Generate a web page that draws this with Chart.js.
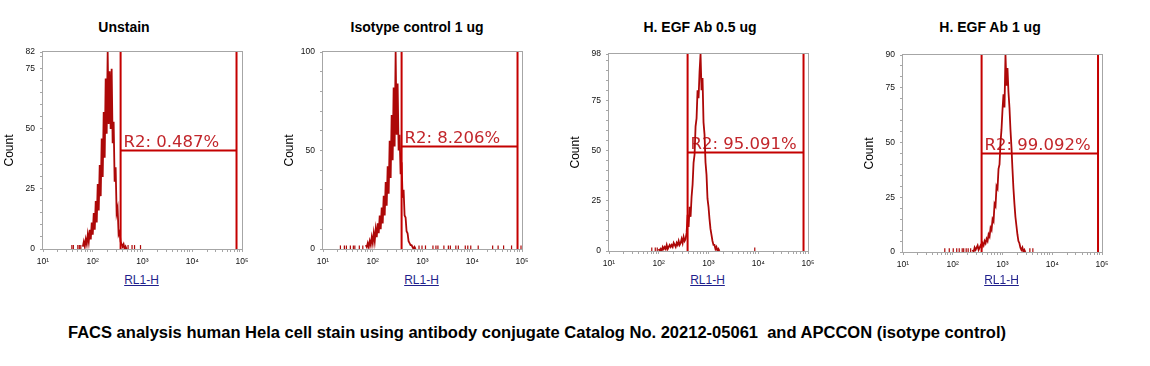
<!DOCTYPE html>
<html>
<head>
<meta charset="utf-8">
<script src="https://cdn.jsdelivr.net/npm/chart.js@4.4.1/dist/chart.umd.min.js"></script>
<style>
  body {
    margin: 0;
    width: 1150px;
    height: 366px;
    background: #fff;
    position: relative;
    overflow: hidden;
    font-family: "Liberation Sans", Arial, sans-serif;
  }
  .panel { position: absolute; }
  .title {
    position: absolute;
    top: 19px;
    font-size: 14px;
    line-height: 16px;
    font-weight: bold;
    white-space: nowrap;
    transform: translateX(-50%);
  }
  .xlabel {
    position: absolute;
    top: 273px;
    font-size: 12px;
    line-height: 14px;
    color: #1f1f8c;
    text-decoration: underline;
    transform: translateX(-50%);
  }
  #caption {
    position: absolute;
    left: 68px;
    top: 324px;
    font-size: 16px;
    line-height: 18px;
    font-weight: bold;
    white-space: pre;
    transform-origin: left top;
  }
</style>
</head>
<body>
<div id="caption">FACS analysis human Hela cell stain using antibody conjugate Catalog No. 20212-05061  and APCCON (isotype control)</div>

<script>
// ---- data ----
const panelTitles = ["Unstain", "Isotype control 1 ug", "H. EGF Ab 0.5 ug", "H. EGF Ab 1 ug"];
const countMax = [82, 100, 98, 90];
const countLabels = [
  [0, 25, 50, 75, 82],
  [0, 50, 100],
  [0, 25, 50, 75, 98],
  [0, 25, 50, 75, 90]
];
const countMinorStep = [5, 10, 5, 5];

const decadeTicks = [10, 100, 1000, 10000, 100000];
const decadeLabels = ["10¹", "10²", "10³", "10⁴", "10⁵"];

const gateLow = [363, 380, 380, 380];
const gateHigh = [77600, 81300, 81300, 83200];
const gateCount = [41, 52, 49, 45];
const gatePercent = ["0.487%", "8.206%", "95.091%", "99.092%"];

// histogram bins, 0.02 decade wide, first bin given as log10(RL1-H)
const binStep = 0.02;
const histStart = [1.80, 1.86, 2.00, 2.40];

const unstainCounts = [
  1, 3, 1, 4, 2, 6, 3, 8, 4, 11, 6, 15, 8, 20, 11, 27, 16, 35, 22, 46,
  30, 57, 38, 71, 48, 82, 52, 74, 50, 75, 44, 53, 28, 34, 15, 17, 6, 7, 3, 2,
  1, 2, 0, 1, 0
];
const isotypeCounts = [
  2, 1, 3, 1, 4, 2, 6, 3, 8, 4, 10, 6, 13, 8, 17, 10, 21, 13, 27, 17,
  34, 22, 42, 28, 55, 36, 68, 45, 82, 52, 100, 58, 84, 50, 58, 38, 44, 26, 30, 17,
  16, 9, 8, 4, 3, 2, 2, 1, 0, 1, 0
];
const egfHalfCounts = [
  1, 0, 1, 0, 2, 1, 2, 1, 3, 1, 2, 3, 2, 3, 2, 4, 3, 2, 4, 3,
  5, 3, 4, 6, 4, 7, 5, 6, 9, 18, 12, 22, 17, 27, 33, 44, 48, 62, 66, 80,
  76, 89, 98, 80, 86, 64, 58, 44, 38, 26, 22, 16, 11, 8, 5, 3, 3, 1, 2, 0,
  1, 0
];
const egfOneCounts = [
  1, 0, 2, 1, 2, 3, 1, 2, 3, 2, 4, 3, 5, 4, 6, 5, 8, 7, 11, 10,
  15, 14, 22, 21, 30, 29, 38, 40, 50, 56, 65, 72, 66, 90, 76, 84, 73, 66, 56, 48,
  38, 29, 22, 16, 12, 8, 5, 4, 2, 1, 2, 0, 1, 0
];
const histCounts = [unstainCounts, isotypeCounts, egfHalfCounts, egfOneCounts];

// single stray events, log10(RL1-H)
const strayEvents = [
  [1.58, 1.61, 1.70, 1.73, 1.76, 2.71, 2.79, 2.84, 2.96],
  [1.35, 1.43, 1.47, 1.55, 1.61, 1.64, 1.73, 1.80, 2.93, 2.99, 3.06, 3.21, 3.27,
   3.31, 3.43, 3.52, 3.56, 3.67, 3.72, 3.86, 3.91, 3.97, 4.12, 4.41, 4.52, 4.63,
   4.79, 4.98],
  [1.86, 1.93, 1.97, 3.93],
  [1.84, 1.93, 2.01, 2.08, 2.13, 2.19, 2.22, 2.27, 2.31, 2.36, 3.55, 3.61]
];

// ---- layout ----
const plotLeft = [43, 323, 609, 903];
const plotTop = [52, 52, 54, 55];
const titleCenter = [124, 417, 700, 990];
const plotWidth = 199;
const plotHeight = 197;
const axisWidth = 43;
const axisHeight = 22;
const padTop = 8;
const padRight = 8;

const histColor = "#ad0808";
const gateColor = "#c40000";
const labelColor = "#c2262b";
const frameColor = "#a6a6a6";

const framePlugin = {
  id: "frame",
  beforeDatasetsDraw(chart) {
    const a = chart.chartArea;
    const ctx = chart.ctx;
    ctx.save();
    ctx.strokeStyle = frameColor;
    ctx.lineWidth = 1;
    ctx.strokeRect(a.left - 0.5, a.top - 0.5, a.right - a.left + 1, a.bottom - a.top + 1);

    const i = chart.options.panelIndex;
    const x = chart.scales.x.getPixelForValue(gateLow[i]);
    const y = chart.scales.y.getPixelForValue(gateCount[i]);
    ctx.fillStyle = labelColor;
    ctx.font = "16.5px 'DejaVu Sans', Verdana, sans-serif";
    ctx.textBaseline = "alphabetic";
    ctx.fillText("R2: " + gatePercent[i], x + 3, y - 4);
    ctx.restore();
  }
};

function makePanel(i) {
  const holder = document.createElement("div");
  holder.className = "panel";
  holder.style.left = (plotLeft[i] - axisWidth) + "px";
  holder.style.top = (plotTop[i] - padTop) + "px";
  const canvas = document.createElement("canvas");
  canvas.width = axisWidth + plotWidth + padRight;
  canvas.height = padTop + plotHeight + axisHeight;
  holder.appendChild(canvas);
  document.body.appendChild(holder);

  const title = document.createElement("div");
  title.className = "title";
  title.textContent = panelTitles[i];
  title.style.left = titleCenter[i] + "px";
  document.body.appendChild(title);

  const xlabel = document.createElement("div");
  xlabel.className = "xlabel";
  xlabel.textContent = "RL1-H";
  xlabel.style.left = (plotLeft[i] + plotWidth / 2 - 1) + "px";
  document.body.appendChild(xlabel);

  const hist = histCounts[i].map((c, k) => ({
    x: Math.pow(10, histStart[i] + k * binStep),
    y: c
  }));
  const strays = strayEvents[i].map(e => ({ x: Math.pow(10, e), y: 0.8 }));
  const lo = gateLow[i], hi = gateHigh[i], h = gateCount[i], top = countMax[i];
  const gate = [
    { x: lo, y: 0 }, { x: lo, y: top }, { x: lo, y: null },
    { x: lo, y: h }, { x: hi, y: h }, { x: hi, y: null },
    { x: hi, y: 0 }, { x: hi, y: top }
  ];

  new Chart(canvas, {
    type: "line",
    data: {
      datasets: [
        {
          data: gate,
          borderColor: gateColor,
          borderWidth: 2,
          pointRadius: 0,
          spanGaps: false
        },
        {
          data: hist,
          borderColor: histColor,
          borderWidth: 1.8,
          pointRadius: 0,
          tension: 0
        },
        {
          data: strays,
          showLine: false,
          pointStyle: "line",
          rotation: 90,
          pointRadius: 2,
          pointBorderWidth: 1.2,
          pointBorderColor: histColor
        }
      ]
    },
    options: {
      panelIndex: i,
      responsive: false,
      animation: false,
      layout: { padding: { top: padTop, right: padRight, left: 0, bottom: 0 } },
      plugins: {
        legend: { display: false },
        tooltip: { enabled: false }
      },
      scales: {
        x: {
          type: "logarithmic",
          min: 10,
          max: 100000,
          border: { display: false },
          grid: { drawOnChartArea: false, tickLength: 3, color: frameColor },
          ticks: {
            autoSkip: false,
            maxRotation: 0,
            padding: 5,
            color: "#111",
            font: { family: "'Liberation Sans', Arial", size: 8.5 },
            callback: value => {
              const d = decadeTicks.indexOf(value);
              return d >= 0 ? decadeLabels[d] : "";
            }
          },
          afterBuildTicks: axis => {
            const ticks = [];
            for (let p = 10; p < 100000; p *= 10) {
              for (let m = 1; m < 10; m++) ticks.push({ value: m * p });
            }
            ticks.push({ value: 100000 });
            axis.ticks = ticks;
          },
          afterFit: axis => {
            axis.height = axisHeight;
            axis.paddingLeft = 0;
            axis.paddingRight = 0;
          }
        },
        y: {
          min: 0,
          max: countMax[i],
          border: { display: false },
          grid: { drawOnChartArea: false, tickLength: 3, color: frameColor },
          ticks: {
            autoSkip: false,
            padding: 5,
            color: "#111",
            font: { family: "'Liberation Sans', Arial", size: 8.5 },
            callback: value => countLabels[i].includes(value) ? String(value) : ""
          },
          title: {
            display: true,
            text: "Count",
            color: "#000",
            padding: { top: 2, bottom: 0 },
            font: { family: "'Liberation Sans', Arial", size: 12 }
          },
          afterBuildTicks: axis => {
            const ticks = [];
            for (let v = 0; v < countMax[i]; v += countMinorStep[i]) ticks.push({ value: v });
            ticks.push({ value: countMax[i] });
            axis.ticks = ticks;
          },
          afterFit: axis => {
            axis.width = axisWidth;
            axis.paddingTop = 0;
            axis.paddingBottom = 0;
          }
        }
      }
    },
    plugins: [framePlugin]
  });
}

for (let i = 0; i < 4; i++) makePanel(i);

const caption = document.getElementById("caption");
const captionWidth = caption.getBoundingClientRect().width;
caption.style.transform = "scaleX(" + (938 / captionWidth) + ")";
</script>
</body>
</html>
